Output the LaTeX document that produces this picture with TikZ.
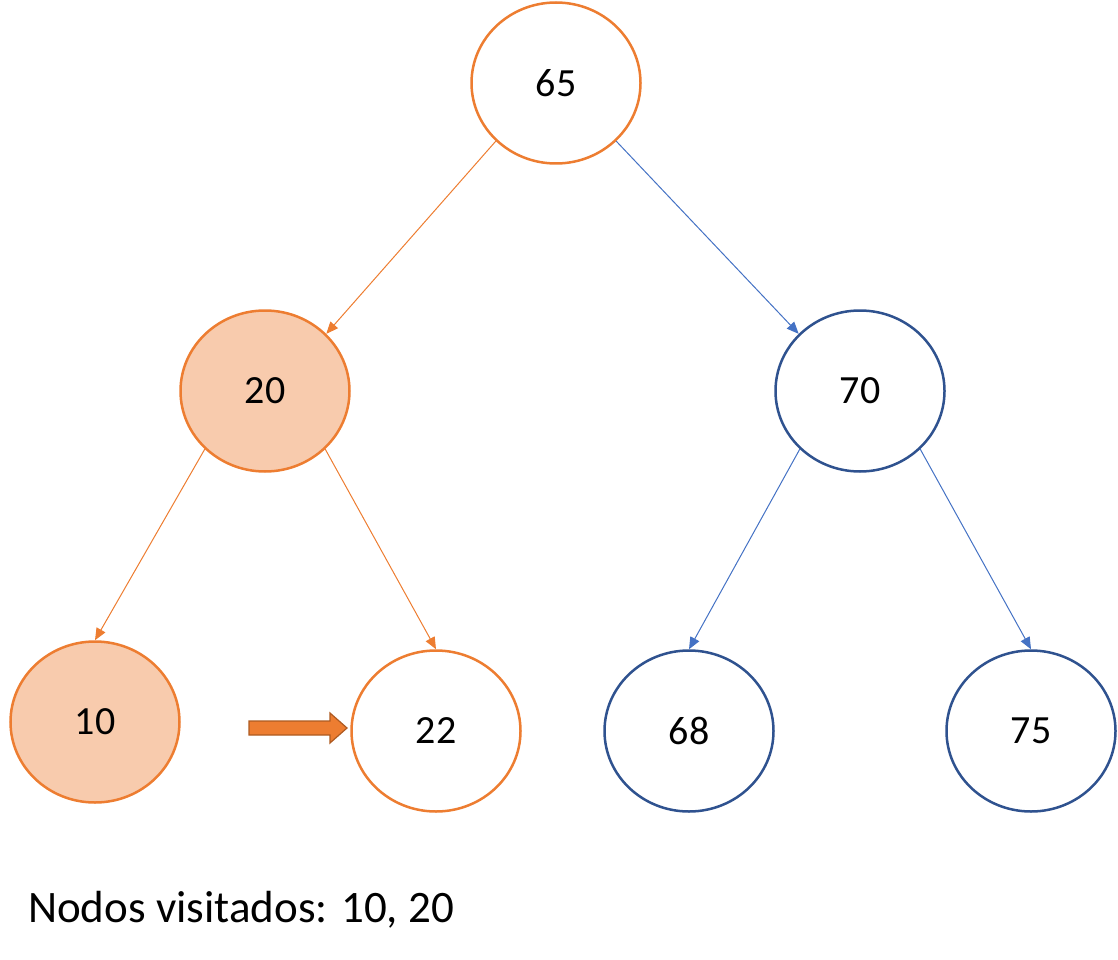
\documentclass[tikz,border=0pt]{standalone}
\usepackage{fontspec}
\setmainfont{Carlito}
\usetikzlibrary{shapes.geometric,arrows.meta}
\definecolor{orng}{HTML}{ED7D31}
\definecolor{peach}{HTML}{F8CBAD}
\definecolor{dblue}{HTML}{2F528F}
\definecolor{eblue}{HTML}{4472C4}
\definecolor{darkorng}{HTML}{AE5A21}
\tikzset{
  treenode/.style={ellipse, minimum width=169pt, minimum height=161pt, inner sep=0pt, line width=2.5pt, font=\fontsize{40}{48}\selectfont},
  onode/.style={treenode, draw=orng, fill=white},
  vnode/.style={treenode, draw=orng, fill=peach},
  bnode/.style={treenode, draw=dblue, fill=white},
  oedge/.style={draw=orng, line width=1pt, -{Triangle[length=12pt,width=10pt]}},
  bedge/.style={draw=eblue, line width=1pt, -{Triangle[length=12pt,width=10pt]}},
}
\begin{document}
\begin{tikzpicture}[x=1pt,y=-1pt]
\useasboundingbox (0,0) rectangle (1118,960);
\node[onode] (n65) at (556,83) {65};
\node[vnode] (n20) at (265,391) {20};
\node[bnode] (n70) at (860,391) {70};
\node[vnode] (n10) at (95,722) {10};
\node[onode] (n22) at (436,731) {22};
\node[bnode] (n68) at (689,731) {68};
\node[bnode] (n75) at (1031,731) {75};
\draw[oedge] (n65.224) -- (n20.43);
\draw[bedge] (n65.316) -- (n70.137);
\draw[oedge] (n20.224) -- (n10.north);
\draw[oedge] (n20.316) -- (n22.north);
\draw[bedge] (n70.224) -- (n68.north);
\draw[bedge] (n70.316) -- (n75.north);
\draw[fill=orng, draw=darkorng, line width=1.2pt, line join=miter]
  (249,721) -- (330,721) -- (330,713) -- (347,728) -- (330,743) -- (330,735) -- (249,735) -- cycle;
\node[anchor=base west, inner sep=0pt, font=\fontsize{45}{54}\selectfont] (lbl) at (28,922) {Nodos visitados: 10, 20};
\end{tikzpicture}
\end{document}
